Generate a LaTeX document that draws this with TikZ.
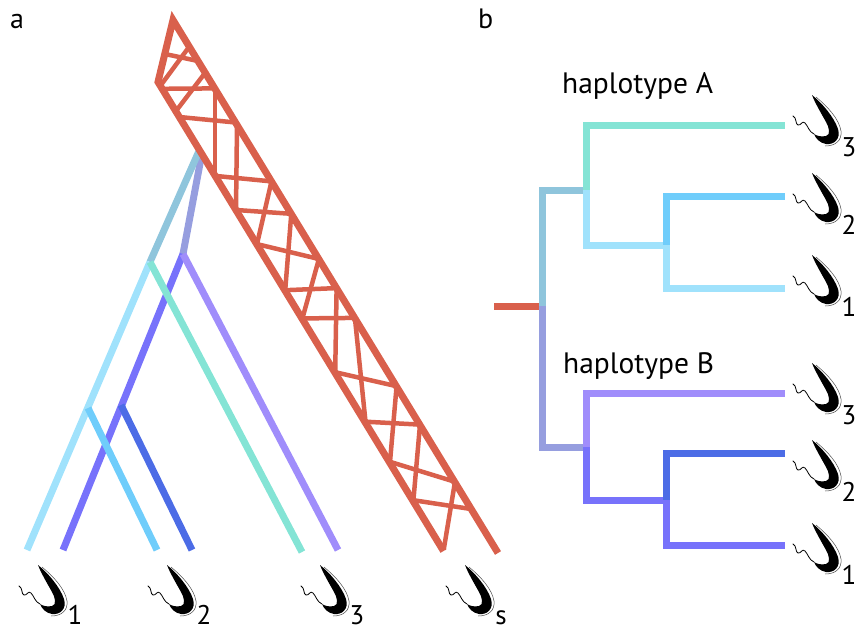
\documentclass[tikz,border=0pt]{standalone}
\usepackage{fontspec}
\setmainfont{PT Sans}
\definecolor{hostred}{HTML}{D9604C}
\definecolor{stemA}{HTML}{8FC5DC}
\definecolor{stemB}{HTML}{969EDF}
\definecolor{hapAone}{HTML}{A0E2FC}
\definecolor{hapAtwo}{HTML}{6FCDFB}
\definecolor{hapAthree}{HTML}{84E4D5}
\definecolor{hapBone}{HTML}{7772FB}
\definecolor{hapBtwo}{HTML}{4C6CE6}
\definecolor{hapBthree}{HTML}{A08DFB}
\tikzset{
  band/.style={draw=hostred,line width=7pt,line join=miter},
  rung/.style={draw=hostred,line width=4.5pt},
  br/.style={line width=7pt,line cap=butt,line join=miter},
  lbl/.style={font=\fontsize{28}{32}\selectfont,inner sep=0pt},
  sublbl/.style={font=\fontsize{27}{32}\selectfont,inner sep=0pt},
  parasite/.pic={
    % flagellum
    \draw[line width=0.8pt,line cap=round] (2,39) .. controls (-3,37) and (-4,31) .. (-7,28)
      .. controls (-10,25) and (-11,31) .. (-14,30) .. controls (-17,29) and (-15,23) .. (-19,21);
    % undulating membrane
    \draw[black!70,line width=0.5pt] (4,2) .. controls (16,12) and (27,24) .. (29,36)
      .. controls (30,46) and (23,51) .. (13,51);
    % cell body
    \fill[black] (0,0) .. controls (10,8) and (22,22) .. (26,34)
      .. controls (29,44) and (22,50) .. (14,49)
      .. controls (8,48) and (4,44) .. (2,39)
      .. controls (5,41) and (9,42) .. (14,41)
      .. controls (19,40) and (17,32) .. (14,27)
      .. controls (9,18) and (3,8) .. (0,0) -- cycle;
  }
}
\begin{document}
\begin{tikzpicture}[x=1pt,y=-1pt]
\useasboundingbox (0,0) rectangle (858,632);
\clip (0,0) rectangle (858,632);

% ---------- panel a ----------
\node[lbl,anchor=base west] (pa) at (10,28) {a};

% branch points and tips of the parasite tree
\coordinate (aOA) at (199,151);
\coordinate (aOB) at (202,153);
\coordinate (aJA) at (150,262);
\coordinate (aJB) at (183,254);
\coordinate (aJ2A) at (88,408);
\coordinate (aJ2B) at (121,405);
\coordinate (aL1A) at (27,550);
\coordinate (aL2A) at (157,550);
\coordinate (aL3A) at (302,552);
\coordinate (aL1B) at (63,550);
\coordinate (aL2B) at (192,550);
\coordinate (aL3B) at (338,550);

\draw[br,stemB] (aOB) -- (aJB);
\draw[br,hapBone] (aJB) -- (aL1B);
\draw[br,hapBtwo] (aJ2B) -- (aL2B);
\draw[br,hapBthree] (aJB) -- (aL3B);
\draw[br,stemA] (aOA) -- (aJA);
\draw[br,hapAone] (aJA) -- (aL1A);
\draw[br,hapAtwo] (aJ2A) -- (aL2A);
\draw[br,hapAthree] (aJA) -- (aL3A);

% host lineage: a band with crossing recombination rungs
\draw[rung] (189,47) -- (161,85);
\draw[rung] (205,73) -- (176,111);
\draw[rung] (215,89) -- (215,176);
\draw[rung] (237,125) -- (236,210);
\draw[rung] (271.5,181.4) -- (257,244.1);
\draw[rung] (291.3,213.8) -- (285.2,290.2);
\draw[rung] (318.9,259) -- (302.4,318.4);
\draw[rung] (336.6,288.1) -- (335.2,372.2);
\draw[rung] (354.9,317.9) -- (365.5,421.7);
\draw[rung] (396.6,386.2) -- (390,461.8);
\draw[rung] (420,424.6) -- (413.4,500.2);
\draw[rung] (455,481.8) -- (443.7,549.7);
\draw[rung] (165,54) -- (198,61);
\draw[rung] (162.2,88.8) -- (214.6,88.4);
\draw[rung] (179.4,117) -- (235.5,122.5);
\draw[rung] (215.3,175.9) -- (271.5,181.4);
\draw[rung] (236.2,210) -- (291.3,213.8);
\draw[rung] (257,244.1) -- (318.9,259);
\draw[rung] (285.2,290.2) -- (336.6,288.1);
\draw[rung] (302.4,318.4) -- (354.9,317.9);
\draw[rung] (335.2,372.2) -- (396.6,386.2);
\draw[rung] (365.5,421.7) -- (420,424.6);
\draw[rung] (390,461.8) -- (455,481.8);
\draw[rung] (413.4,500.2) -- (471.6,509.1);
\draw[band] (443.5,551) -- (158,82) -- (173,20) -- (498,553);

% parasite cells with their subscripts
\pic (pa1) at (38,565) {parasite};
\node[sublbl,anchor=base] (sa1) at (75,624) {1};
\pic (pa2) at (167,565) {parasite};
\node[sublbl,anchor=base] (sa2) at (204,624) {2};
\pic (pa3) at (320,565) {parasite};
\node[sublbl,anchor=base] (sa3) at (357,624) {3};
\pic (pas) at (465,565) {parasite};
\node[sublbl,anchor=base] (sas) at (501,624) {s};

% ---------- panel b ----------
\node[lbl,anchor=base west] (pb) at (478,28) {b};

\coordinate (bR0) at (494,306);
\coordinate (bR) at (542,306);
\coordinate (bA) at (586,190);
\coordinate (bA2) at (666,245);
\coordinate (bB) at (586,447);
\coordinate (bB2) at (666,500);
\coordinate (bL3A) at (785,125);
\coordinate (bL2A) at (785,196);
\coordinate (bL1A) at (785,288);
\coordinate (bL3B) at (785,393);
\coordinate (bL2B) at (785,453);
\coordinate (bL1B) at (785,545);

\draw[br,hostred] (bR0) -- (bR);
\draw[br,stemA] (bR) |- (bA);
\draw[br,stemB] (bR) |- (bB);
\draw[br,hapAthree] (bA) |- (bL3A);
\draw[br,hapAone] (bA) |- (bA2);
\draw[br,hapAtwo] (bA2) |- (bL2A);
\draw[br,hapAone] (bA2) |- (bL1A);
\draw[br,hapBthree] (bB) |- (bL3B);
\draw[br,hapBone] (bB) |- (bB2);
\draw[br,hapBtwo] (bB2) |- (bL2B);
\draw[br,hapBone] (bB2) |- (bL1B);

\node[lbl,anchor=base west,font=\fontsize{29.5}{34}\selectfont] (hA) at (562,93) {haplotype A};
\node[lbl,anchor=base west,font=\fontsize{29.5}{34}\selectfont] (hB) at (563,373) {haplotype B};

\pic (pb3A) at (812,95) {parasite};
\node[sublbl,anchor=base] (sb3A) at (849,156) {3};
\pic (pb2A) at (812,173) {parasite};
\node[sublbl,anchor=base] (sb2A) at (849,234) {2};
\pic (pb1A) at (812,255) {parasite};
\node[sublbl,anchor=base] (sb1A) at (849,316) {1};
\pic (pb3B) at (812,363) {parasite};
\node[sublbl,anchor=base] (sb3B) at (849,424) {3};
\pic (pb2B) at (812,440) {parasite};
\node[sublbl,anchor=base] (sb2B) at (849,501) {2};
\pic (pb1B) at (812,523) {parasite};
\node[sublbl,anchor=base] (sb1B) at (849,584) {1};
\end{tikzpicture}
\end{document}
